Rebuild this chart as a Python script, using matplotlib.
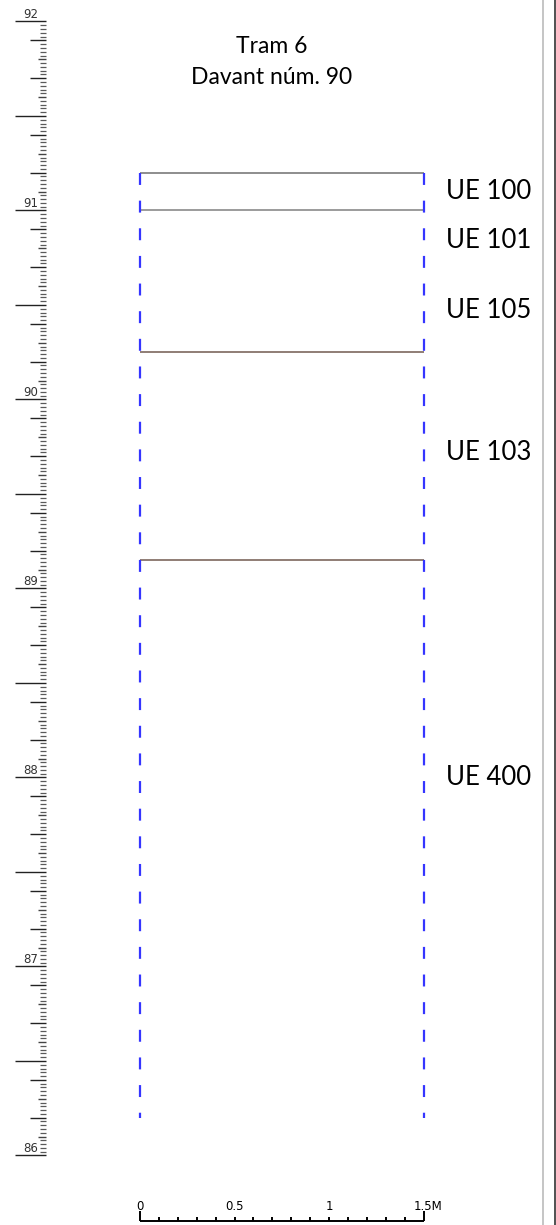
import numpy as np
import matplotlib
matplotlib.use("Agg")
import matplotlib.pyplot as plt
from matplotlib.lines import Line2D

plt.rcParams['font.family'] = ['Lato', 'DejaVu Sans']
plt.rcParams['lines.scale_dashes'] = False

# data
title_lines = ["Tram 6", "Davant núm. 90"]
section_width = 1.5
section_top = 91.2
section_bottom = 86.2
boundaries = [91.2, 91.0, 90.25, 89.15]
boundary_colors = ['#7a7a7a', '#8a8a8a', '#7d675e', '#7d675e']
ue_labels = ["UE 100", "UE 101", "UE 105", "UE 103", "UE 400"]
ue_levels = [91.1, 90.84, 90.47, 89.72, 88.0]
ruler_min, ruler_max = 86, 92
scale_labels = ["0", "0.5", "1", "1.5M"]
scale_values = [0, 0.5, 1, 1.5]

# figure: 1 m = 189 px on both axes
W, H = 556, 1225
ppm = 189.0
x0_px = 140.0
y92_px = 21.5

fig = plt.figure(figsize=(W / 100, H / 100), dpi=100)
ax = fig.add_axes([0, 0, 1, 1])
ax.set_xlim(-x0_px / ppm, (W - x0_px) / ppm)
ax.set_ylim(92 - (H - y92_px) / ppm, 92 + y92_px / ppm)
ax.axis('off')

def px2x(px):
    return (px - x0_px) / ppm

def py2y(py):
    return 92 - (py - y92_px) / ppm

# elevation ruler on the left
r_right = px2x(45.5)
levels = np.round(np.arange(ruler_min, ruler_max + 0.001, 0.02), 2)
for lv in levels:
    hund = int(round(lv * 100)) % 100
    if hund % 10 != 0:
        ax.plot([px2x(40), r_right], [lv, lv], color='#5a5a5a', lw=0.9, solid_capstyle='butt')
        continue
    tenth = hund // 10
    if tenth in (0, 5):
        left, c = px2x(15), '#222222'
    elif tenth in (9, 7, 4, 2):
        left, c = px2x(30), '#222222'
    else:
        left, c = px2x(37.5), '#444444'
    ax.plot([left, r_right], [lv, lv], color=c, lw=1.0, solid_capstyle='butt')
    if tenth == 0:
        ax.text(px2x(38.5), lv + 1.0 / ppm, "%d" % round(lv), fontsize=8.5,
                color='#333333', ha='right', va='bottom', family='DejaVu Sans')

# title
title_x = px2x(272)
ax.text(title_x, py2y(47), title_lines[0], fontsize=16.5, ha='center', va='center')
ax.text(title_x, py2y(77), title_lines[1], fontsize=16.5, ha='center', va='center')

# section boundaries
for lv, c in zip(boundaries, boundary_colors):
    ax.plot([0, section_width], [lv, lv], color=c, lw=1.2, solid_capstyle='butt')

# dashed sides
for xv in [0, section_width]:
    ax.plot([xv, xv], [section_top, section_bottom], color='#3535ff', lw=1.6,
            linestyle=(0, (8.6, 11.3)), dash_capstyle='butt')

# unit labels
for lab, lv in zip(ue_labels, ue_levels):
    ax.text(px2x(446), lv, lab, fontsize=18.5, ha='left', va='center')

# scale bar
base = py2y(1221)
ax.plot([0, section_width], [base, base], color='black', lw=1.4, solid_capstyle='butt')
for t in np.round(np.arange(0, section_width + 0.001, 0.1), 2):
    h = 10 if t in (0, section_width) else 4
    ax.plot([t, t], [base, base + h / ppm], color='black', lw=1.4, solid_capstyle='butt')
for lab, v in zip(scale_labels, scale_values):
    xpos = v
    if lab.endswith('M'):
        xpos = v + 5 / ppm
    ax.text(xpos, py2y(1206), lab, fontsize=8.5, ha='center', va='center', family='DejaVu Sans')

# frame lines on the right edge
fig.add_artist(Line2D([542.7 / W, 542.7 / W], [0, 1], color='#bbbbbb', lw=1.2))
fig.add_artist(Line2D([555 / W, 555 / W], [0, 1], color='#333333', lw=1.2))

fig.savefig('out.png', dpi=100)
